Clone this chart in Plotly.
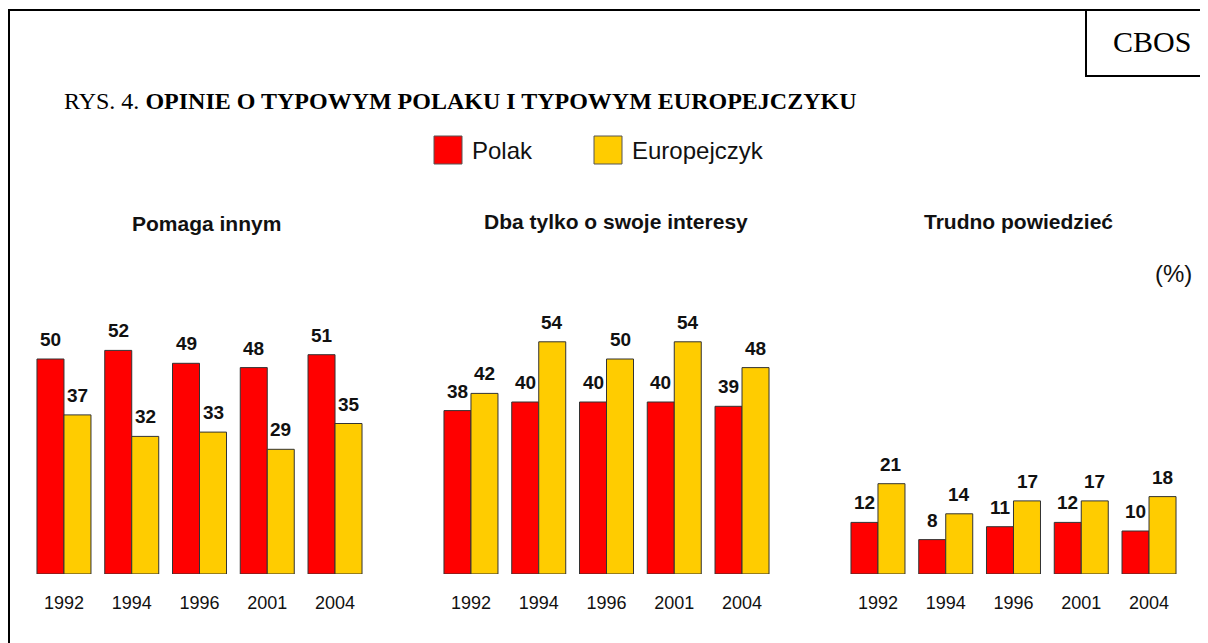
import plotly.graph_objects as go

W, H = 1208, 643
OFF = 8  # page body margin in the browser

years = ["1992", "1994", "1996", "2001", "2004"]
series_names = ["Polak", "Europejczyk"]
panel_titles = ["Pomaga innym", "Dba tylko o swoje interesy", "Trudno powiedzieć"]

polak_pomaga = [50, 52, 49, 48, 51]
europ_pomaga = [37, 32, 33, 29, 35]
polak_dba = [38, 40, 40, 40, 39]
europ_dba = [42, 54, 50, 54, 48]
polak_trudno = [12, 8, 11, 12, 10]
europ_trudno = [21, 14, 17, 17, 18]

panels = [(polak_pomaga, europ_pomaga), (polak_dba, europ_dba), (polak_trudno, europ_trudno)]

RED = "#FF0000"
YELLOW = "#FFCC00"
OUTLINE = "#333333"
SANS = "Liberation Sans, Arial, sans-serif"
SERIF = "Liberation Serif, Times New Roman, serif"


def px_x(x):
    return (x - OFF) / W


def px_y(y):
    return 1 - (y - OFF) / H


# layout geometry (pixels, in screenshot coordinates)
x_domains_px = [(30.1, 368.9), (437.1, 775.9), (844.1, 1182.9)]
base_px = 574
top_px = 300
ppu = 4.3
ymax = (base_px - top_px) / ppu

fig = go.Figure()
colors = [RED, YELLOW]
annotations = []

for i, (pol, eur) in enumerate(panels):
    ax = "" if i == 0 else str(i + 1)
    for j, vals in enumerate((pol, eur)):
        fig.add_trace(go.Bar(
            x=years, y=vals, name=series_names[j],
            marker=dict(color=colors[j], line=dict(color=OUTLINE, width=1)),
            xaxis="x" + ax, yaxis="y" + ax, showlegend=False,
        ))
        for k, v in enumerate(vals):
            annotations.append(dict(
                x=k, y=v, xref="x" + ax, yref="y" + ax,
                text=f"<b>{v}</b>", showarrow=False,
                xanchor="center", yanchor="bottom",
                xshift=-13.5 if j == 0 else 13.5, yshift=7,
                font=dict(family=SANS, size=19, color="#111111"),
            ))

layout_axes = {}
for i, (x0, x1) in enumerate(x_domains_px):
    suffix = "" if i == 0 else str(i + 1)
    layout_axes["xaxis" + suffix] = dict(
        domain=[px_x(x0), px_x(x1)], type="category",
        range=[-0.5, len(years) - 0.5], autorange=False,
        categoryorder="array", categoryarray=years,
        showline=False, showgrid=False, zeroline=False, ticks="",
        ticklabelstandoff=16, automargin=False,
        tickfont=dict(family=SANS, size=18, color="#111111"),
        anchor="y" + suffix, fixedrange=True,
    )
    layout_axes["yaxis" + suffix] = dict(
        domain=[px_y(base_px), px_y(top_px)], range=[0, ymax], autorange=False,
        visible=False, anchor="x" + suffix, fixedrange=True,
    )

# panel titles
title_pos = [(206, 224), (616, 222), (1018, 221)]
for t, (cx, cy) in zip(panel_titles, title_pos):
    annotations.append(dict(
        x=px_x(cx), y=px_y(cy), xref="paper", yref="paper",
        text=f"<b>{t}</b>", showarrow=False, xanchor="center", yanchor="middle",
        font=dict(family=SANS, size=21, color="#111111"),
    ))

# main title
annotations.append(dict(
    x=px_x(62), y=px_y(101), xref="paper", yref="paper",
    text="RYS. 4. <b>OPINIE O TYPOWYM POLAKU I TYPOWYM EUROPEJCZYKU</b>",
    showarrow=False, xanchor="left", yanchor="middle",
    font=dict(family=SERIF, size=24, color="#000000"),
))

# CBOS
annotations.append(dict(
    x=px_x(1152), y=px_y(42), xref="paper", yref="paper",
    text="CBOS", showarrow=False, xanchor="center", yanchor="middle",
    font=dict(family=SERIF, size=30, color="#000000"),
))

# (%)
annotations.append(dict(
    x=px_x(1194), y=px_y(273), xref="paper", yref="paper",
    text="(%)", showarrow=False, xanchor="right", yanchor="middle",
    font=dict(family=SANS, size=24, color="#111111"),
))

# legend texts
annotations.append(dict(
    x=px_x(470), y=px_y(150), xref="paper", yref="paper",
    text="Polak", showarrow=False, xanchor="left", yanchor="middle",
    font=dict(family=SANS, size=24, color="#111111"),
))
annotations.append(dict(
    x=px_x(630), y=px_y(150), xref="paper", yref="paper",
    text="Europejczyk", showarrow=False, xanchor="left", yanchor="middle",
    font=dict(family=SANS, size=24, color="#111111"),
))

shapes = [
    # outer frame (top and left visible)
    dict(type="line", xref="paper", yref="paper", x0=px_x(8), x1=px_x(1220),
         y0=px_y(10), y1=px_y(10), line=dict(color="black", width=2)),
    dict(type="line", xref="paper", yref="paper", x0=px_x(9), x1=px_x(9),
         y0=px_y(9), y1=px_y(660), line=dict(color="black", width=2)),
    # CBOS box
    dict(type="line", xref="paper", yref="paper", x0=px_x(1086), x1=px_x(1086),
         y0=px_y(10), y1=px_y(77), line=dict(color="black", width=2)),
    dict(type="line", xref="paper", yref="paper", x0=px_x(1085), x1=px_x(1220),
         y0=px_y(76), y1=px_y(76), line=dict(color="black", width=2)),
    # legend swatches
    dict(type="rect", xref="paper", yref="paper", x0=px_x(434), x1=px_x(462),
         y0=px_y(164), y1=px_y(136), fillcolor=RED, line=dict(color="#555555", width=1)),
    dict(type="rect", xref="paper", yref="paper", x0=px_x(594), x1=px_x(622),
         y0=px_y(164), y1=px_y(136), fillcolor=YELLOW, line=dict(color="#555555", width=1)),
]

fig.update_layout(
    width=W, height=H,
    margin=dict(l=0, r=0, t=0, b=0, autoexpand=False),
    paper_bgcolor="white", plot_bgcolor="white",
    barmode="group", bargap=0.203, bargroupgap=0,
    showlegend=False,
    annotations=annotations, shapes=shapes,
    **layout_axes,
)

fig.write_html("out.html")
